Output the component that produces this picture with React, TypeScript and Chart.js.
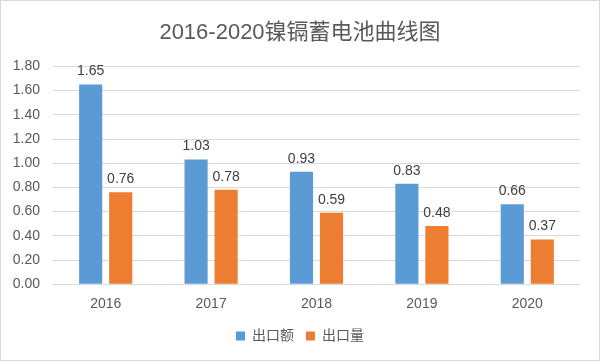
import React, { useEffect, useRef } from "react";
import { Chart, registerables } from "chart.js";

Chart.register(...registerables);

const categories = ["2016", "2017", "2018", "2019", "2020"];
const exportValue = [1.65, 1.03, 0.93, 0.83, 0.66];
const exportVolume = [0.76, 0.78, 0.59, 0.48, 0.37];
const seriesNames = ["出口额", "出口量"];
const titleText = "2016-2020镍镉蓄电池曲线图";

const FONT = '"Liberation Sans", "Noto Sans CJK SC", sans-serif';

const labelPlugin = {
  id: "barLabels",
  afterDatasetsDraw(chart: any) {
    const ctx = chart.ctx;
    ctx.save();
    ctx.font = `14px ${FONT}`;
    ctx.fillStyle = "#404040";
    ctx.textAlign = "center";
    ctx.textBaseline = "bottom";
    chart.data.datasets.forEach((ds: any, i: number) => {
      const meta = chart.getDatasetMeta(i);
      meta.data.forEach((bar: any, j: number) => {
        ctx.fillText(Number(ds.data[j]).toFixed(2), bar.x, bar.y - 6);
      });
    });
    ctx.restore();
  },
};

export default function App() {
  const ref = useRef<HTMLCanvasElement>(null);
  useEffect(() => {
    document.body.style.margin = "0";
    const chart = new Chart(ref.current!, {
      type: "bar",
      data: {
        labels: categories,
        datasets: [
          {
            label: seriesNames[0],
            data: exportValue,
            backgroundColor: "#5B9BD5",
            categoryPercentage: 0.57,
            barPercentage: 0.77,
          },
          {
            label: seriesNames[1],
            data: exportVolume,
            backgroundColor: "#ED7D31",
            categoryPercentage: 0.57,
            barPercentage: 0.77,
          },
        ],
      },
      options: {
        animation: false,
        responsive: false,
        layout: { padding: { left: 6, right: 6, top: 8, bottom: 7 } },
        plugins: {
          title: {
            display: true,
            text: titleText,
            color: "#595959",
            font: { family: FONT, size: 22, weight: "normal" },
            padding: { top: 11, bottom: 20 },
          },
          legend: {
            position: "bottom",
            labels: {
              boxWidth: 9,
              boxHeight: 9,
              color: "#595959",
              font: { family: FONT, size: 14 },
              padding: 12,
            },
          },
          tooltip: { enabled: false },
        },
        scales: {
          x: {
            grid: { display: false },
            border: { color: "#d9d9d9" },
            ticks: { color: "#595959", font: { family: FONT, size: 14 }, padding: 4 },
          },
          y: {
            min: 0,
            max: 1.8,
            afterFit: (axis: any) => {
              axis.width = 46;
            },
            ticks: {
              stepSize: 0.2,
              color: "#595959",
              font: { family: FONT, size: 14 },
              padding: 13,
              callback: (v: any) => Number(v).toFixed(2),
            },
            grid: { color: "#d9d9d9", tickLength: 0 },
            border: { display: false },
          },
          yRight: {
            position: "right",
            display: true,
            afterFit: (axis: any) => {
              axis.width = 13;
            },
            ticks: { display: false },
            grid: { display: false },
            border: { display: false },
          },
        },
      },
      plugins: [labelPlugin],
    });
    return () => chart.destroy();
  }, []);
  return (
    <div
      style={{
        position: "fixed",
        left: 0,
        top: 0,
        width: 600,
        height: 361,
        boxSizing: "border-box",
        border: "1px solid #d9d9d9",
        background: "#fff",
      }}
    >
      <canvas ref={ref} width={598} height={359} />
    </div>
  );
}
